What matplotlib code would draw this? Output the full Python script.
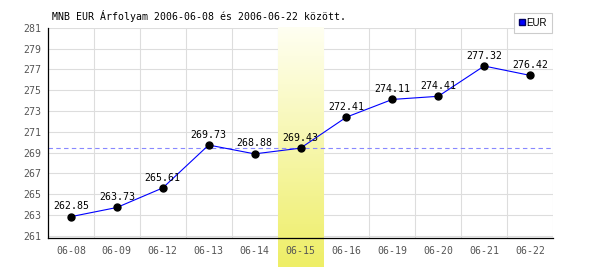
import numpy as np
import matplotlib
matplotlib.use("Agg")
import matplotlib.pyplot as plt
from matplotlib.lines import Line2D

# EUR rates from MNB, 2006-06-08 .. 2006-06-22
dates = ["06-08", "06-09", "06-12", "06-13", "06-14", "06-15",
         "06-16", "06-19", "06-20", "06-21", "06-22"]
rates = [262.85, 263.73, 265.61, 269.73, 268.88, 269.43,
         272.41, 274.11, 274.41, 277.32, 276.42]
highlight = 5  # index of the highlighted day
yticks = list(range(261, 282, 2))

mono = "DejaVu Sans Mono"
fs = 7.1

fig = plt.figure(figsize=(6, 2.7), dpi=100)
ax = fig.add_axes([48 / 600, 32 / 270, 505 / 600, 210.3 / 270])

x = np.arange(len(dates))
ax.set_xlim(-0.5, len(dates) - 0.5)
ax.set_ylim(260.8, 281)

# gridlines
for v in yticks:
    ax.axhline(v, color="#dddddd", lw=0.8, zorder=0)
for k in range(1, len(dates) + 1):
    ax.axvline(k - 0.5, color="#dddddd", lw=0.8, zorder=0)

# highlighted column with yellow gradient, runs down past the axis
grad = np.linspace(0, 1, 256).reshape(-1, 1)
cmap = matplotlib.colors.LinearSegmentedColormap.from_list("hl", ["#fffff2", "#eeee66"])
ax.imshow(grad, cmap=cmap, aspect="auto", origin="upper",
          extent=(highlight - 0.5, highlight + 0.5, 258.0, 281.0),
          clip_on=False, zorder=0.5)

# reference line at the highlighted value
ax.axhline(rates[highlight], color="#8888ff", lw=0.8, ls=(0, (4, 3)), zorder=1)

ax.plot(x, rates, color="#0000ff", lw=0.8, zorder=2)
ax.plot(x, rates, "o", color="black", ms=5, zorder=3)
for xi, r in zip(x, rates):
    ax.annotate(f"{r:.2f}", (xi, r), xytext=(0, 7.5), textcoords="offset points",
                ha="center", va="center", fontsize=fs, family=mono, color="black", zorder=4)

ax.set_xticks(x)
ax.set_xticklabels(dates, family=mono, fontsize=fs, color="#555555")
ax.set_yticks(yticks)
ax.set_yticklabels([str(v) for v in yticks], family=mono, fontsize=fs, color="#555555")
ax.tick_params(length=0)
ax.tick_params(axis="x", pad=6)
ax.tick_params(axis="y", pad=5)

for s in ["top", "right"]:
    ax.spines[s].set_visible(False)
for s in ["left", "bottom"]:
    ax.spines[s].set_color("black")
    ax.spines[s].set_linewidth(0.9)
    ax.spines[s].set_zorder(5)

fig.text(52 / 600, 1 - 16 / 270, "MNB EUR Árfolyam 2006-06-08 és 2006-06-22 között.",
         family=mono, fontsize=fs, va="center", ha="left")

handle = Line2D([], [], marker="s", color="#0000ff", markeredgecolor="#000066",
                ls="none", ms=5)
leg = fig.legend([handle], ["EUR"], loc="upper right",
                 bbox_to_anchor=(552 / 600, 1 - 13 / 270),
                 prop={"family": "Liberation Sans", "size": 7},
                 fancybox=False, framealpha=1, edgecolor="#cccccc",
                 handlelength=0.6, handletextpad=0.2, borderpad=0.5,
                 borderaxespad=0)
leg.get_frame().set_linewidth(0.8)

fig.savefig("out.png", dpi=100)
